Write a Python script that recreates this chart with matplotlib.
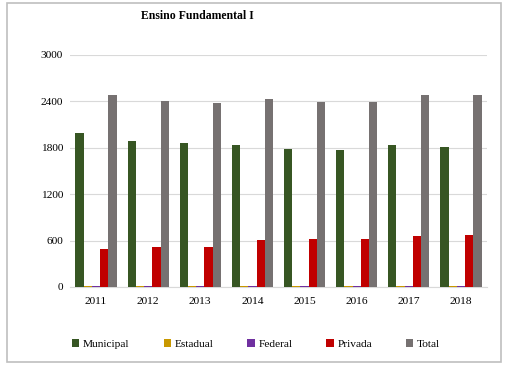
import matplotlib
matplotlib.use("Agg")
import matplotlib.pyplot as plt
import numpy as np
from matplotlib.patches import Rectangle

years = ["2011", "2012", "2013", "2014", "2015", "2016", "2017", "2018"]
municipal = [1990, 1893, 1867, 1832, 1785, 1776, 1841, 1815]
estadual = [18, 18, 18, 18, 18, 18, 18, 18]
federal = [18, 18, 18, 18, 18, 18, 18, 18]
privada = [490, 516, 520, 610, 615, 619, 654, 667]
total = [2477, 2409, 2378, 2434, 2387, 2387, 2486, 2481]

series_names = ["Municipal", "Estadual", "Federal", "Privada", "Total"]
series_values = [municipal, estadual, federal, privada, total]
colors = ["#375623", "#C89800", "#7030A0", "#C00000", "#767171"]
yticks = [0, 600, 1200, 1800, 2400, 3000]

plt.rcParams["font.family"] = ["Liberation Serif", "DejaVu Serif"]

fig = plt.figure(figsize=(5.10, 3.67), dpi=100)
ax = fig.add_axes([70/510, 1-287/367, 417/510, 232/367])

x = np.arange(len(years))
w = 0.158
for i, (name, vals, c) in enumerate(zip(series_names, series_values, colors)):
    ax.bar(x + (i - 2) * w, vals, width=w, color=c, label=name, zorder=3)

ax.set_xlim(-0.5, len(years) - 0.5)
ax.set_ylim(0, 3000)
ax.set_yticks(yticks)
ax.set_yticklabels([str(v) for v in yticks])
ax.set_xticks(x)
ax.set_xticklabels(years)
ax.tick_params(axis="both", length=0, labelsize=8.2, colors="black")
ax.tick_params(axis="y", pad=5)
ax.tick_params(axis="x", pad=7)
ax.grid(axis="y", color="#D9D9D9", linewidth=0.8, zorder=0)
for s in ["top", "right", "left"]:
    ax.spines[s].set_visible(False)
ax.spines["bottom"].set_color("#D9D9D9")
ax.spines["bottom"].set_linewidth(0.8)

fig.text(197/510, 1-16/367, "Ensino Fundamental I", ha="center", va="center",
         fontsize=8.5, fontweight="bold")

fig.legend(loc="center", bbox_to_anchor=(256/510, 1-344/367), ncol=5, frameon=False,
           fontsize=8.2, handlelength=0.65, handleheight=0.65, columnspacing=3.0,
           handletextpad=0.3)

fig.patches.append(Rectangle((7/510, 1-362/367), 494/510, 359/367,
                             transform=fig.transFigure, fill=False,
                             edgecolor="#BFBFBF", linewidth=1.2))

fig.savefig("out.png", dpi=100)
